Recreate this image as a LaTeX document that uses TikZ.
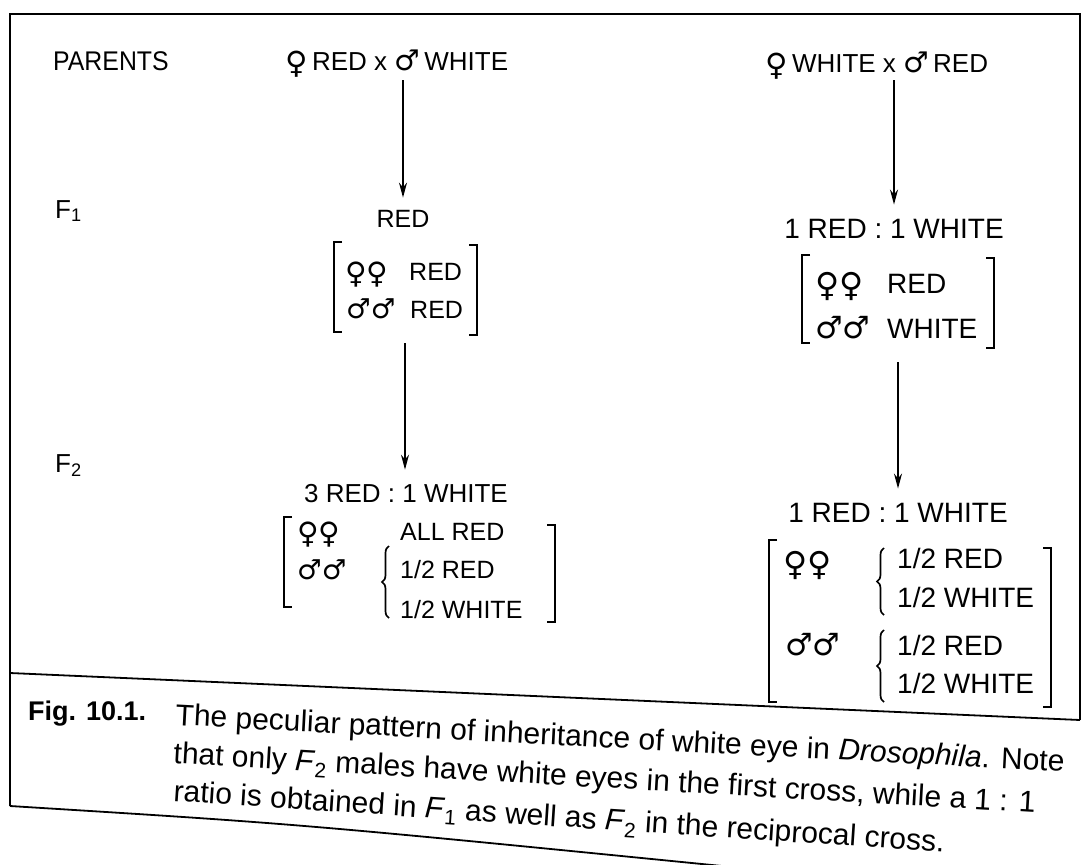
\documentclass[tikz,border=0pt]{standalone}
\usepackage{graphicx}
\usepackage{fontspec}
\setmainfont{Liberation Sans}
\newfontfamily\symf{DejaVu Sans}
\newfontfamily\condf[FakeStretch=0.92]{Liberation Sans}
\usetikzlibrary{arrows.meta,decorations.pathreplacing}
\newcommand{\femsym}{\raisebox{-0.13em}{\scalebox{1.18}{\symf ♀}}}
\newcommand{\malsym}{\scalebox{1.1}{\symf ♂}}
\begin{document}
\begin{tikzpicture}[x=1pt,y=-1pt,
  bwest/.style={inner sep=0pt, anchor=base west},
  txtL/.style={bwest, font=\fontsize{25}{30}\selectfont},
  txtR/.style={bwest, font=\fontsize{28}{32}\selectfont},
  toplab/.style={bwest, font=\fontsize{26}{30}\selectfont},
  hdlab/.style={inner sep=0pt, anchor=base},
  arr/.style={line width=1.6pt, -{Stealth[length=15pt,width=8pt]}},
  brk/.style={line width=2.4pt},
  brc/.style={line width=1.7pt, decorate, decoration={brace, amplitude=7pt}},
  frm/.style={line width=1.8pt},
  captxt/.style={inner sep=0pt, anchor=base west, font=\fontsize{30}{36}\selectfont}]
\useasboundingbox (0,0) rectangle (1082,865);
% frame
\draw[frm] (10,806) -- (10,14) -- (1080,14) -- (1080,720);
\draw[frm] (10,673) -- (1080,720);
\draw[frm] (10,806) .. controls (300,824) .. (722,866);

% top row
\node[toplab, font=\fontsize{27}{30}\selectfont\condf] (par) at (53,70) {PARENTS};
\node[toplab] (pL) at (285,70) {\femsym\,RED x \malsym\,WHITE};
\node[toplab] (pR) at (765,72) {\femsym\,WHITE x \malsym\,RED};
\node[toplab] (f1) at (55,218) {F\textsubscript{1}};
\node[toplab] (f2) at (55,472) {F\textsubscript{2}};

% ---- left cross
\coordinate (a1L) at (403,80);
\node[hdlab, font=\fontsize{25}{30}\selectfont] (f1L) at (403,227) {RED};
\draw[arr, shorten >=12pt] (a1L) -- (f1L.north);
\node[txtL] (f1Lf) at (345,280) {\femsym\femsym};
\node[txtL] (f1Lfr) at (409,280) {RED};
\node[txtL] (f1Lm) at (346,318) {\malsym\malsym};
\node[txtL] (f1Lmr) at (410,318) {RED};
\draw[brk] (342,242) -- (334,242) -- (334,332) -- (342,332);
\draw[brk] (469,245) -- (477,245) -- (477,335) -- (469,335);

\coordinate (a2L) at (405,343);
\node[hdlab, font=\fontsize{26}{30}\selectfont] (f2L) at (406,502) {3 RED : 1 WHITE};
\draw[arr, shorten >=14pt] (a2L) -- (f2L.north -| a2L);
\node[txtL] (f2Lf) at (297,540) {\femsym\femsym};
\node[txtL] (f2Lfr) at (400,540) {ALL RED};
\node[txtL] (f2Lm) at (297,579) {\malsym\malsym};
\node[txtL] (f2Lm1) at (400,578) {1/2 RED};
\node[txtL] (f2Lm2) at (400,618) {1/2 WHITE};
\draw[brc] (389,618) -- (389,546);
\draw[brk] (292,517) -- (284,517) -- (284,607) -- (292,607);
\draw[brk] (547,525) -- (555,525) -- (555,622) -- (547,622);

% ---- right cross
\coordinate (a1R) at (894,80);
\node[hdlab, font=\fontsize{28}{32}\selectfont] (f1R) at (894,238) {1 RED : 1 WHITE};
\draw[arr, shorten >=14pt] (a1R) -- (f1R.north);
\node[txtR] (f1Rf) at (815,293) {\femsym\femsym};
\node[txtR] (f1Rfr) at (887,293) {RED};
\node[txtR] (f1Rm) at (815,338) {\malsym\malsym};
\node[txtR] (f1Rmr) at (887,338) {WHITE};
\draw[brk] (810,255) -- (802,255) -- (802,343) -- (810,343);
\draw[brk] (986,258) -- (994,258) -- (994,348) -- (986,348);

\coordinate (a2R) at (898,362);
\node[hdlab, font=\fontsize{28}{32}\selectfont] (f2R) at (898,522) {1 RED : 1 WHITE};
\draw[arr, shorten >=14pt] (a2R) -- (f2R.north);
\node[txtR] (f2Rf) at (783,572) {\femsym\femsym};
\node[txtR] (f2Rf1) at (897,568) {1/2 RED};
\node[txtR] (f2Rf2) at (897,607) {1/2 WHITE};
\node[txtR] (f2Rm) at (785,655) {\malsym\malsym};
\node[txtR] (f2Rm1) at (897,655) {1/2 RED};
\node[txtR] (f2Rm2) at (897,693) {1/2 WHITE};
\draw[brc] (884,615) -- (884,548);
\draw[brc] (884,702) -- (884,630);
\draw[brk] (777,540) -- (769,540) -- (769,702) -- (777,702);
\draw[brk] (1043,548) -- (1051,548) -- (1051,707) -- (1043,707);

% caption
\node[bwest, font=\fontsize{27}{32}\selectfont\bfseries] (fig) at (28,720) {Fig. 10.1.};
\node[captxt, rotate=-3.0] (c1) at (175,725) {The peculiar pattern of inheritance of white eye in \textit{Drosophila}. Note};
\node[captxt, rotate=-3.3] (c2) at (173,763) {that only \textit{F}\textsubscript{2} males have white eyes in the first cross, while a 1 : 1};
\node[captxt, rotate=-3.8] (c3) at (173,801) {ratio is obtained in \textit{F}\textsubscript{1} as well as \textit{F}\textsubscript{2} in the reciprocal cross.};
\end{tikzpicture}
\end{document}
